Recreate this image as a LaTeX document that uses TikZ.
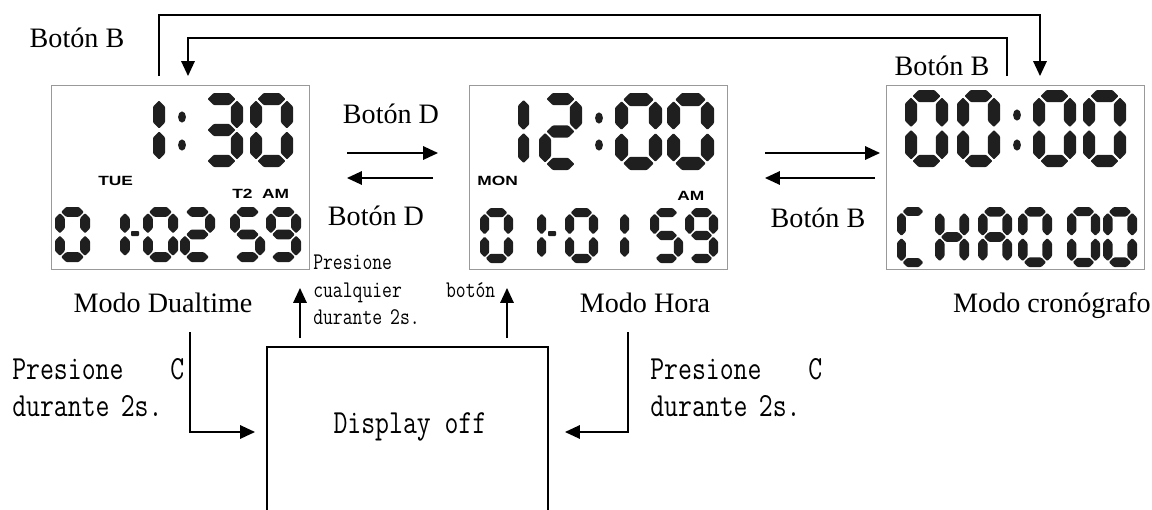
\documentclass[tikz,border=0pt]{standalone}
\usepackage{fontspec}
\setmainfont{Liberation Serif}
\newfontfamily\monofont[FakeStretch=0.8]{Latin Modern Mono}
\newfontfamily\lcdfont[FakeStretch=1.3]{Liberation Sans}
\usetikzlibrary{arrows.meta}

% seven segment pieces (px units, y pointing down)
\def\lcdsega{({\dt/2+\dg},{\dt/2}) -- ({\dt+\dg},0) -- ({\dw-\dt-\dg},0) -- ({\dw-\dt/2-\dg},{\dt/2}) -- ({\dw-\dt-\dg},\dt) -- ({\dt+\dg},\dt) -- cycle}
\def\lcdsegg{({\dt/2+\dg},\dh) -- ({\dt+\dg},{\dh-\dt/2}) -- ({\dw-\dt-\dg},{\dh-\dt/2}) -- ({\dw-\dt/2-\dg},\dh) -- ({\dw-\dt-\dg},{\dh+\dt/2}) -- ({\dt+\dg},{\dh+\dt/2}) -- cycle}
\def\lcdsegd{({\dt/2+\dg},{2*\dh-\dt/2}) -- ({\dt+\dg},{2*\dh-\dt}) -- ({\dw-\dt-\dg},{2*\dh-\dt}) -- ({\dw-\dt/2-\dg},{2*\dh-\dt/2}) -- ({\dw-\dt-\dg},{2*\dh}) -- ({\dt+\dg},{2*\dh}) -- cycle}
\def\lcdsegf{({\dt/2},{\dt/2+\dg}) -- (\dt,{\dt+\dg}) -- (\dt,{\dh-\dt/2-\dg}) -- ({\dt/2},{\dh-\dg}) -- (0,{\dh-\dt/2-\dg}) -- (0,{\dt+\dg}) -- cycle}
\def\lcdsege{({\dt/2},{\dh+\dg}) -- (\dt,{\dh+\dt/2+\dg}) -- (\dt,{2*\dh-\dt-\dg}) -- ({\dt/2},{2*\dh-\dt/2-\dg}) -- (0,{2*\dh-\dt-\dg}) -- (0,{\dh+\dt/2+\dg}) -- cycle}
\def\lcdsegb{({\dx+\dt/2},{\dt/2+\dg}) -- ({\dx+\dt},{\dt+\dg}) -- ({\dx+\dt},{\dh-\dt/2-\dg}) -- ({\dx+\dt/2},{\dh-\dg}) -- (\dx,{\dh-\dt/2-\dg}) -- (\dx,{\dt+\dg}) -- cycle}
\def\lcdsegc{({\dx+\dt/2},{\dh+\dg}) -- ({\dx+\dt},{\dh+\dt/2+\dg}) -- ({\dx+\dt},{2*\dh-\dt-\dg}) -- ({\dx+\dt/2},{2*\dh-\dt/2-\dg}) -- (\dx,{2*\dh-\dt-\dg}) -- (\dx,{\dh+\dt/2+\dg}) -- cycle}

% \lcddigit{x}{y}{width}{height}{segments}
\newcommand{\lcddigit}[5]{%
  \begin{scope}[shift={(#1,#2)}]
    \pgfmathsetmacro\dw{#3}\pgfmathsetmacro\dh{#4/2}%
    \pgfmathsetmacro\dt{0.28*#3}\pgfmathsetmacro\dg{0.035*#3}%
    \pgfmathsetmacro\dx{\dw-\dt}%
    \foreach \s in {#5}{%
      \expandafter\let\expandafter\segpath\csname lcdseg\s\endcsname
      \fill[segfill] \segpath;}%
  \end{scope}}

\begin{document}
\begin{tikzpicture}[x=0.025cm, y=-0.025cm,
  lcdbox/.style={draw=black!40, line width=0.6pt, inner sep=0pt, minimum width=6.45cm, minimum height=4.6cm},
  segfill/.style={fill=black!88, rounded corners=0.7pt},
  serif/.style={font=\fontsize{20}{24}\selectfont, inner sep=0pt, anchor=base},
  mono/.style={font=\monofont\fontsize{24}{26.2}\selectfont, inner sep=0pt, align=left},
  monosmall/.style={font=\monofont\fontsize{17}{19.5}\selectfont, inner sep=0pt, align=left},
  lcdtag/.style={font=\lcdfont\bfseries\fontsize{9.5}{10}\selectfont, inner sep=0pt, anchor=base west},
  arr/.style={line width=1.1pt, -{Triangle[length=10.5pt, width=9.5pt]}},
]
\useasboundingbox (0,0) rectangle (1152,509);

% LCD screens
\node[lcdbox] (dual) at (180,177) {};
\node[lcdbox] (hora) at (598.5,177) {};
\node[lcdbox] (crono) at (1015,177) {};

% dualtime: 1:30 / 0 1-02 59
\lcddigit{153}{93}{43}{74}{f,e}
\fill[segfill] (182,117) ellipse [x radius=2.8pt, y radius=4pt];
\fill[segfill] (182,145) ellipse [x radius=2.8pt, y radius=4pt];
\lcddigit{200}{93}{43}{74}{a,b,g,c,d}
\lcddigit{250}{93}{43}{74}{a,b,c,d,e,f}
\node[lcdtag] (tue) at (98,185) {TUE};
\node[lcdtag] (t2am) at (232,198) {T2\ \ AM};
\lcddigit{55}{207}{35}{55}{a,b,c,d,e,f}
\lcddigit{120}{207}{35}{55}{f,e}
\fill[segfill] (131,231) rectangle (139,236);
\lcddigit{143}{207}{35}{55}{a,b,c,d,e,f}
\lcddigit{180}{207}{35}{55}{a,b,g,e,d}
\lcddigit{230}{207}{35}{55}{a,f,g,c,d}
\lcddigit{266}{207}{35}{55}{a,b,c,d,f,g}

% hora: 12:00 / 0 1-0 1 59
\lcddigit{518}{93}{40}{77}{f,e}
\lcddigit{539}{93}{43}{77}{a,b,g,e,d}
\fill[segfill] (599,118) ellipse [x radius=2.8pt, y radius=4pt];
\fill[segfill] (599,145) ellipse [x radius=2.8pt, y radius=4pt];
\lcddigit{615}{93}{47}{77}{a,b,c,d,e,f}
\lcddigit{667}{93}{47}{77}{a,b,c,d,e,f}
\node[lcdtag] (mon) at (477,185) {MON};
\node[lcdtag] (am) at (677,200) {AM};
\lcddigit{480}{208}{33}{55}{a,b,c,d,e,f}
\lcddigit{537}{208}{33}{55}{f,e}
\fill[segfill] (548,231) rectangle (556,236);
\lcddigit{565}{208}{33}{55}{a,b,c,d,e,f}
\lcddigit{620}{208}{33}{55}{f,e}
\lcddigit{650}{208}{33}{55}{a,f,g,c,d}
\lcddigit{685}{208}{33}{55}{a,b,c,d,f,g}

% cronografo: 00:00 / CHA0 00
\lcddigit{905}{90}{43}{77}{a,b,c,d,e,f}
\lcddigit{957}{90}{43}{77}{a,b,c,d,e,f}
\fill[segfill] (1017,115) ellipse [x radius=2.8pt, y radius=4pt];
\fill[segfill] (1017,145) ellipse [x radius=2.8pt, y radius=4pt];
\lcddigit{1033}{90}{43}{77}{a,b,c,d,e,f}
\lcddigit{1083}{90}{43}{77}{a,b,c,d,e,f}
\lcddigit{897}{207}{32}{60}{a,d,e,f}
\lcddigit{935}{207}{34}{60}{b,c,e,f,g}
\lcddigit{978}{207}{34}{60}{a,b,c,e,f,g}
\lcddigit{1018}{207}{34}{60}{a,b,c,d,e,f}
\lcddigit{1067}{207}{33}{60}{a,b,c,d,e,f}
\lcddigit{1103}{207}{34}{60}{a,b,c,d,e,f}

% mode names
\node[serif] (mdual) at (163,312) {Modo Dualtime};
\node[serif] (mhora) at (645,312) {Modo Hora};
\node[serif] (mcrono) at (1052,312) {Modo cronógrafo};

% button labels
\node[serif] (lblB1) at (77,47) {Botón B};
\node[serif] (lblB2) at (942,75) {Botón B};
\node[serif] (lblD1) at (391,123) {Botón D};
\node[serif] (lblD2) at (376,225) {Botón D};
\node[serif] (lblB3) at (818,227) {Botón B};

% Botón B loops over the top
\coordinate (loopA) at (159,76);
\coordinate (loopB) at (1040,76);
\coordinate (loopC) at (1007,76);
\coordinate (loopD) at (188,76);
\draw[arr] (loopA) -- ++(0,-61) -| (loopB);
\draw[arr] (loopC) -- ++(0,-38) -| (loopD);

% Botón D / Botón B arrows
\coordinate (dR1) at (347,153); \coordinate (dR2) at (438,153);
\coordinate (dL1) at (433,178); \coordinate (dL2) at (347,178);
\coordinate (cR1) at (765,153); \coordinate (cR2) at (880,153);
\coordinate (cL1) at (875,178); \coordinate (cL2) at (765,178);
\draw[arr] (dR1) -- (dR2);
\draw[arr] (dL1) -- (dL2);
\draw[arr] (cR1) -- (cR2);
\draw[arr] (cL1) -- (cL2);

% display off
\draw[line width=1.5pt] (267,520) |- (548,347) -- (548,520);
\node[mono, anchor=base] (off) at (410,433) {Display off};

\node[mono, anchor=north west, text width=4.3cm] (pcl) at (12,358) {Presione\hfill C\\durante 2s.};
\node[mono, anchor=north west, text width=4.3cm] (pcr) at (650,358) {Presione\hfill C\\durante 2s.};
\node[monosmall, anchor=north west, text width=4.55cm] (pany) at (313,255) {Presione\\cualquier\hfill botón\\durante 2s.};

\coordinate (offL) at (255,432);
\coordinate (offR) at (565,432);
\draw[arr] (190,332) |- (offL);
\draw[arr] (628,332) |- (offR);
\coordinate (upL) at (300,288);
\coordinate (upR) at (507,288);
\draw[arr] (300,338) -- (upL);
\draw[arr] (507,338) -- (upR);
\end{tikzpicture}
\end{document}
